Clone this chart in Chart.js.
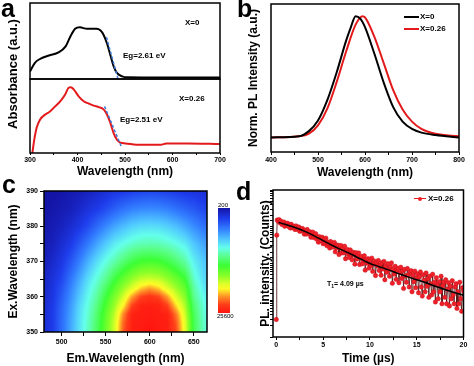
<!DOCTYPE html>
<html>
<head>
<meta charset="utf-8">
<script src="https://cdn.jsdelivr.net/npm/chart.js@4.4.0/dist/chart.umd.min.js"></script>
<style>
  html, body { margin: 0; padding: 0; background: #fff; }
  #fig { position: relative; width: 474px; height: 366px; overflow: hidden;
         font-family: "Liberation Sans", Arial, sans-serif; font-weight: bold; color: #000; }
  #fig canvas { position: absolute; }
  .t { position: absolute; white-space: nowrap; line-height: 1; }
  .ytitle { position: absolute; height: 14px; line-height: 14px; text-align: center;
            transform: rotate(-90deg); white-space: nowrap; }
  .sw { position: absolute; height: 2px; }
</style>
</head>
<body>
<div id="fig">
  <canvas id="absTop" width="230" height="80" style="left:0;top:0"></canvas>
  <canvas id="absBot" width="230" height="101" style="left:0;top:78px"></canvas>
  <canvas id="plSpec" width="236" height="180" style="left:237px;top:0"></canvas>
  <canvas id="plMapChart" width="240" height="190" style="left:0;top:176px"></canvas>
  <canvas id="decay" width="237" height="190" style="left:237px;top:176px"></canvas>

  <div class="ytitle" style="left:-57px;top:67px;width:140px;font-size:13px">Absorbance (a.u.)</div>

  <div class="t" style="left:1px;top:-4px;font-size:25px">a</div>
  <div class="t" style="left:237px;top:-4px;font-size:25px">b</div>
  <div class="t" style="left:2px;top:172px;font-size:25px">c</div>
  <div class="t" style="left:236px;top:179px;font-size:25px">d</div>

  <div class="t" style="left:185px;top:19px;font-size:8px">X=0</div>
  <div class="t" style="left:123px;top:52px;font-size:8px">Eg=2.61 eV</div>
  <div class="t" style="left:179px;top:95px;font-size:8px">X=0.26</div>
  <div class="t" style="left:120px;top:116px;font-size:8px">Eg=2.51 eV</div>

  <div class="sw" style="left:404px;top:16px;width:15px;background:#000"></div>
  <div class="t" style="left:420px;top:13px;font-size:8px">X=0</div>
  <div class="sw" style="left:404px;top:28px;width:15px;background:#e31a1c"></div>
  <div class="t" style="left:420px;top:25px;font-size:8px">X=0.26</div>

  <div class="t" style="left:218px;top:202px;font-size:6px;font-weight:normal">200</div>
  <div class="t" style="left:217px;top:313px;font-size:6px;font-weight:normal">25600</div>

  <div class="sw" style="left:414px;top:198px;width:12px;background:#e31a1c;height:1px"></div>
  <div class="t" style="left:418px;top:197px;width:4px;height:4px;border-radius:2px;background:#f0202a"></div>
  <div class="t" style="left:428px;top:195px;font-size:8px">X=0.26</div>
  <div class="t" style="left:327px;top:280px;font-size:7px">T<sub style="font-size:5px">1</sub>= 4.09 µs</div>
</div>

<script>
// ---- panel a: absorbance ----
const absWl0 = [300, 310, 320, 340, 360, 375, 385, 395, 405, 420, 440, 448, 455, 462, 469, 476, 483, 494, 505, 550, 600, 650, 700];
const absX0 = [0.10, 0.21, 0.26, 0.31, 0.35, 0.43, 0.56, 0.66, 0.68, 0.66, 0.66, 0.64, 0.58, 0.47, 0.32, 0.17, 0.08, 0.035, 0.022, 0.02, 0.02, 0.02, 0.02];
const absWl26 = [305, 309, 314, 321, 332, 342, 353, 364, 374, 381, 386, 392, 402, 413, 423, 434, 445, 455, 462, 469, 476, 483, 490, 501, 533, 575, 587, 632, 700];
const absX26 = [0, 0.18, 0.34, 0.45, 0.52, 0.56, 0.63, 0.70, 0.79, 0.88, 0.89, 0.86, 0.77, 0.70, 0.67, 0.64, 0.62, 0.59, 0.52, 0.41, 0.27, 0.18, 0.14, 0.13, 0.11, 0.11, 0.13, 0.13, 0.12];
const tangentWl0 = [461, 487];
const tangentAbs0 = [0.55, -0.04];
const tangentWl26 = [457, 492];
const tangentAbs26 = [0.63, 0.09];

// ---- panel b: normalised PL ----
const plWl0 = [400, 460, 480, 500, 520, 540, 560, 570, 580, 590, 600, 620, 640, 660, 680, 700, 720, 750, 800];
const plX0 = [0, 0.01, 0.05, 0.14, 0.31, 0.54, 0.80, 0.91, 1.0, 0.98, 0.91, 0.69, 0.45, 0.25, 0.13, 0.07, 0.04, 0.02, 0.0];
const plWl26 = [400, 460, 480, 500, 520, 540, 560, 580, 595, 600, 620, 640, 660, 680, 700, 720, 750, 800];
const plX26 = [0, 0.01, 0.03, 0.10, 0.24, 0.46, 0.71, 0.93, 1.0, 0.99, 0.83, 0.61, 0.39, 0.23, 0.13, 0.07, 0.03, 0.01];

// ---- panel c: PLE map (counts) ----
const emWl = [480, 490, 500, 510, 520, 530, 540, 550, 560, 570, 580, 590, 600, 610, 620, 630, 640, 650, 660, 670];
const exWl = [350, 352.5, 355, 357.5, 360, 362.5, 365, 370, 375, 380, 385, 390];
const plMap = [
  [1900, 2700, 4600, 6700, 8800, 10700, 13000, 15600, 18400, 22900, 25000, 25300, 25600, 25300, 25000, 23300, 19000, 13400, 10900, 9300],
  [1800, 2700, 4600, 6600, 8700, 10600, 12800, 15500, 18200, 22600, 25000, 25200, 25400, 25200, 25000, 23000, 18800, 13400, 10900, 9300],
  [1800, 2700, 4500, 6400, 8600, 10400, 12600, 15200, 17800, 21800, 24900, 25100, 25200, 25100, 24900, 22200, 18300, 13200, 10600, 9100],
  [1700, 2600, 4300, 6200, 8300, 10100, 12100, 14600, 17000, 19800, 23500, 24900, 25000, 24900, 23500, 20300, 17500, 12600, 10400, 8800],
  [1600, 2400, 4000, 5800, 7800, 9700, 11500, 13800, 16100, 18300, 21400, 23400, 24000, 23400, 21400, 18500, 16500, 11900, 9900, 8600],
  [1400, 2300, 3600, 5400, 7300, 9200, 10900, 12900, 15000, 16900, 18600, 20400, 21300, 20400, 18600, 17100, 15400, 11400, 9300, 8100],
  [1300, 2100, 3100, 4900, 6700, 8600, 10200, 11800, 13800, 15500, 16900, 17900, 18200, 17900, 16900, 15700, 14200, 10600, 8800, 7800],
  [900, 1600, 2400, 3700, 5300, 7000, 8600, 10000, 11200, 12500, 13600, 14300, 14500, 14300, 13600, 12600, 11400, 9300, 8100, 7100],
  [700, 1000, 1800, 2500, 3800, 5200, 6600, 7900, 9100, 9900, 10600, 11000, 11100, 11000, 10600, 10000, 9200, 7800, 6800, 6000],
  [400, 700, 1100, 1700, 2400, 3300, 4500, 5600, 6600, 7400, 8100, 8500, 8600, 8500, 8100, 7500, 6700, 5800, 5000, 4500],
  [200, 400, 700, 900, 1500, 2100, 2600, 3300, 4100, 4800, 5300, 5600, 5700, 5600, 5300, 4800, 4300, 3800, 3200, 3000],
  [200, 200, 300, 600, 800, 1100, 1500, 1900, 2300, 2500, 2800, 3000, 3100, 3000, 2800, 2600, 2300, 2200, 2000, 1700]
];
const cbarTicks = [200, 25600];

// ---- panel d: PL decay ----
const decayTime = [0, 0.05,
  0.1, 0.2, 0.3, 0.4, 0.5, 0.6, 0.7, 0.8, 0.9, 1.0, 1.1, 1.2, 1.3, 1.4, 1.5, 1.6, 1.7, 1.8, 1.9, 2.0,
  2.1, 2.2, 2.3, 2.4, 2.5, 2.6, 2.7, 2.8, 2.9, 3.0, 3.1, 3.2, 3.3, 3.4, 3.5, 3.6, 3.7, 3.8, 3.9, 4.0,
  4.1, 4.2, 4.3, 4.4, 4.5, 4.6, 4.7, 4.8, 4.9, 5.0, 5.1, 5.2, 5.3, 5.4, 5.5, 5.6, 5.7, 5.8, 5.9, 6.0,
  6.1, 6.2, 6.3, 6.4, 6.5, 6.6, 6.7, 6.8, 6.9, 7.0, 7.1, 7.2, 7.3, 7.4, 7.5, 7.6, 7.7, 7.8, 7.9, 8.0,
  8.1, 8.2, 8.3, 8.4, 8.5, 8.6, 8.7, 8.8, 8.9, 9.0, 9.1, 9.2, 9.3, 9.4, 9.5, 9.6, 9.7, 9.8, 9.9, 10.0,
  10.1, 10.2, 10.3, 10.4, 10.5, 10.6, 10.7, 10.8, 10.9, 11.0, 11.1, 11.2, 11.3, 11.4, 11.5, 11.6, 11.7, 11.8, 11.9, 12.0,
  12.1, 12.2, 12.3, 12.4, 12.5, 12.6, 12.7, 12.8, 12.9, 13.0, 13.1, 13.2, 13.3, 13.4, 13.5, 13.6, 13.7, 13.8, 13.9, 14.0,
  14.1, 14.2, 14.3, 14.4, 14.5, 14.6, 14.7, 14.8, 14.9, 15.0, 15.1, 15.2, 15.3, 15.4, 15.5, 15.6, 15.7, 15.8, 15.9, 16.0,
  16.1, 16.2, 16.3, 16.4, 16.5, 16.6, 16.7, 16.8, 16.9, 17.0, 17.1, 17.2, 17.3, 17.4, 17.5, 17.6, 17.7, 17.8, 17.9, 18.0,
  18.1, 18.2, 18.3, 18.4, 18.5, 18.6, 18.7, 18.8, 18.9, 19.0, 19.1, 19.2, 19.3, 19.4, 19.5, 19.6, 19.7, 19.8, 19.9, 20.0];
const decayCounts = [3, 590,
  1523, 1406, 1566, 1275, 1420, 1157, 1288, 1348, 1031, 1222, 1127, 1254, 1020, 1136, 924, 1165, 1009, 931, 1036, 843,
  1058, 857, 891, 987, 751, 886, 764, 900, 776, 629, 786, 633, 843, 638, 661, 729, 518, 648, 714, 508,
  557, 651, 461, 539, 381, 538, 459, 418, 520, 345, 459, 369, 490, 306, 382, 348, 263, 396, 281, 350,
  282, 376, 208, 314, 269, 316, 175, 264, 310, 194, 259, 196, 295, 135, 217, 240, 182, 146, 235, 178,
  126, 203, 174, 96, 198, 132, 165, 193, 94, 142, 156, 98, 122, 163, 66, 127, 102, 136, 75, 121,
  86, 140, 61, 98, 116, 47, 105, 85, 121, 64, 91, 48, 105, 71, 114, 36, 86, 58, 99, 67,
  45, 82, 104, 29, 68, 52, 84, 37, 67, 74, 30, 56, 79, 39, 63, 21, 69, 46, 31, 73,
  49, 23, 57, 64, 17, 48, 32, 62, 22, 39, 52, 16, 44, 59, 23, 13, 49, 35, 17, 55,
  24, 39, 12, 45, 28, 14, 51, 17, 31, 9, 41, 26, 11, 32, 17, 45, 8, 25, 31, 12,
  36, 8, 20, 30, 7, 24, 11, 34, 14, 8, 23, 28, 6, 17, 8, 31, 11, 5, 22, 18];
const fitTime = [0.25, 1, 2, 3, 4, 5, 6, 7, 8, 9, 10, 11, 12, 13, 14, 15, 16, 17, 18, 19, 20];
const fitCounts = [1310, 1148, 955, 759, 575, 417, 309, 234, 178, 133, 100, 82, 67, 54, 44, 36, 30, 24, 19.6, 16.3, 13.7];

const RED = '#e31a1c';
const BLUE = '#3d7fd9';

Chart.defaults.font.family = '"Liberation Sans", Arial, sans-serif';
Chart.defaults.font.size = 7;
Chart.defaults.font.weight = 'bold';
Chart.defaults.color = '#000';

const pts = (xs, ys) => xs.map((x, i) => ({ x: x, y: ys[i] }));

// black box round the plot area
const frame = {
  id: 'frame',
  afterDraw(chart) {
    const { ctx, chartArea: a } = chart;
    ctx.save();
    ctx.strokeStyle = '#000';
    ctx.lineWidth = 1.5;
    ctx.strokeRect(a.left, a.top, a.right - a.left, a.bottom - a.top);
    ctx.restore();
  }
};

function baseOpts(padding) {
  return {
    responsive: false,
    animation: false,
    events: [],
    layout: { padding: padding },
    plugins: { legend: { display: false }, tooltip: { enabled: false } }
  };
}

function xAxis(min, max, step, labelEvery, title, height, tickLen, tickPad) {
  return {
    type: 'linear', min: min, max: max,
    ticks: {
      stepSize: step, autoSkip: false, maxRotation: 0, padding: tickPad, includeBounds: false,
      callback: v => (Math.abs(v % labelEvery) < 1e-6 ? v : '')
    },
    grid: { display: true, drawOnChartArea: false, drawTicks: true, tickLength: tickLen, color: '#000', tickColor: '#000' },
    border: { display: false },
    title: { display: true, text: title, font: { size: 12, weight: 'bold' }, padding: 0 },
    afterFit: s => { s.height = height; s.paddingLeft = 0; s.paddingRight = 0; }
  };
}

function plainY(min, max, width, title, titlePad) {
  return {
    min: min, max: max,
    ticks: { display: false },
    grid: { display: false },
    border: { display: false },
    title: { display: !!title, text: title || '', font: { size: 12, weight: 'bold' }, padding: { top: titlePad || 0, bottom: 0 } },
    afterFit: s => { s.width = width; s.paddingTop = 0; s.paddingBottom = 0; }
  };
}

const lineDs = (data, color, width) => ({
  data: data, showLine: true, borderColor: color, borderWidth: width,
  pointRadius: 0, pointHoverRadius: 0, cubicInterpolationMode: 'monotone'
});

// a, upper half (X=0)
new Chart(document.getElementById('absTop'), {
  type: 'scatter',
  data: { datasets: [
    Object.assign(lineDs(pts(tangentWl0, tangentAbs0), BLUE, 1.5), { borderDash: [3, 2], clip: false }),
    lineDs(pts(absWl0, absX0), '#000', 2)
  ] },
  options: Object.assign(baseOpts({ left: 0, top: 3, right: 10, bottom: 1 }), {
    scales: {
      x: { type: 'linear', display: false, min: 300, max: 700 },
      y: plainY(0, 1, 30)
    }
  }),
  plugins: [frame]
});

// a, lower half (X=0.26)
new Chart(document.getElementById('absBot'), {
  type: 'scatter',
  data: { datasets: [
    Object.assign(lineDs(pts(tangentWl26, tangentAbs26), BLUE, 1.5), { borderDash: [3, 2] }),
    lineDs(pts(absWl26, absX26), RED, 2)
  ] },
  options: Object.assign(baseOpts({ left: 0, top: 1, right: 10, bottom: 0 }), {
    scales: {
      x: xAxis(300, 700, 50, 100, 'Wavelength (nm)', 26, 2, 1),
      y: plainY(0, 1, 30)
    }
  }),
  plugins: [frame]
});

// b
new Chart(document.getElementById('plSpec'), {
  type: 'scatter',
  data: { datasets: [
    lineDs(pts(plWl0, plX0), '#000', 2),
    lineDs(pts(plWl26, plX26), RED, 2)
  ] },
  options: Object.assign(baseOpts({ left: 0, top: 4, right: 14, bottom: 0 }), {
    scales: {
      x: xAxis(400, 800, 50, 100, 'Wavelength (nm)', 28, 3, 1),
      y: plainY(-0.12, 1.10, 34, 'Norm. PL Intensity (a.u.)', 9)
    }
  }),
  plugins: [frame]
});

// c: colour map drawn pixel by pixel through the chart scales
const cmapStops = [
  [0.00, [20, 20, 165]], [0.10, [30, 60, 235]], [0.20, [50, 125, 255]], [0.30, [80, 200, 255]],
  [0.38, [100, 255, 235]], [0.46, [90, 255, 140]], [0.55, [60, 255, 50]], [0.65, [140, 255, 40]],
  [0.72, [220, 255, 40]], [0.77, [255, 250, 40]], [0.84, [255, 150, 40]], [0.92, [255, 60, 25]],
  [1.00, [255, 20, 15]]
];

function cmap(t) {
  t = Math.min(1, Math.max(0, t));
  for (let i = 1; i < cmapStops.length; i++) {
    const [p1, c1] = cmapStops[i];
    if (t <= p1) {
      const [p0, c0] = cmapStops[i - 1];
      const f = (t - p0) / (p1 - p0);
      return c0.map((v, k) => Math.round(v + (c1[k] - v) * f));
    }
  }
  return cmapStops[cmapStops.length - 1][1];
}

function findCell(arr, v) {
  const n = arr.length - 1;
  if (v <= arr[0]) return [0, 0, 0];
  if (v >= arr[n]) return [n, n, 0];
  let i = 0;
  while (arr[i + 1] < v) i++;
  return [i, i + 1, (v - arr[i]) / (arr[i + 1] - arr[i])];
}

function mapValue(xv, yv) {
  const [c0, c1, fx] = findCell(emWl, xv);
  const [r0, r1, fy] = findCell(exWl, yv);
  const lo = plMap[r0][c0] * (1 - fx) + plMap[r0][c1] * fx;
  const hi = plMap[r1][c0] * (1 - fx) + plMap[r1][c1] * fx;
  return lo * (1 - fy) + hi * fy;
}

const heatmap = {
  id: 'heatmap',
  beforeDatasetsDraw(chart) {
    const { ctx, chartArea: a, scales: { x, y } } = chart;
    const left = Math.round(a.left), top = Math.round(a.top);
    const w = Math.round(a.right) - left, h = Math.round(a.bottom) - top;
    const img = ctx.createImageData(w, h);
    const span = cbarTicks[1] - cbarTicks[0];
    for (let j = 0; j < h; j++) {
      const yv = y.getValueForPixel(top + j + 0.5);
      for (let i = 0; i < w; i++) {
        const xv = x.getValueForPixel(left + i + 0.5);
        const c = cmap((mapValue(xv, yv) - cbarTicks[0]) / span);
        const k = (j * w + i) * 4;
        img.data[k] = c[0]; img.data[k + 1] = c[1]; img.data[k + 2] = c[2]; img.data[k + 3] = 255;
      }
    }
    ctx.putImageData(img, left, top);
  },
  afterDraw(chart) {
    // colour bar, low at the top
    const ctx = chart.ctx;
    const g = ctx.createLinearGradient(0, 32, 0, 137);
    cmapStops.forEach(([p, c]) => g.addColorStop(p, 'rgb(' + c.join(',') + ')'));
    ctx.fillStyle = g;
    ctx.fillRect(218, 32, 12, 105);
  }
};

new Chart(document.getElementById('plMapChart'), {
  type: 'scatter',
  data: { datasets: [] },
  options: Object.assign(baseOpts({ left: 0, top: 15, right: 33, bottom: 0 }), {
    scales: {
      x: xAxis(480, 665, 25, 50, 'Em.Wavelength (nm)', 34, 4, 2),
      y: {
        min: 350, max: 390,
        ticks: { stepSize: 5, autoSkip: false, padding: 2, callback: v => (v % 10 === 0 ? v : '') },
        grid: { display: true, drawOnChartArea: false, tickLength: 4, color: '#000', tickColor: '#000' },
        border: { display: false },
        title: { display: true, text: 'Ex.Wavelength (nm)', font: { size: 12, weight: 'bold' }, padding: { top: 6, bottom: 0 } },
        afterFit: s => { s.width = 44; s.paddingTop = 0; s.paddingBottom = 0; }
      }
    }
  }),
  plugins: [heatmap, frame]
});

// d
new Chart(document.getElementById('decay'), {
  type: 'scatter',
  data: { datasets: [
    lineDs(pts(fitTime, fitCounts), '#000', 1.5),
    {
      data: pts(decayTime, decayCounts), showLine: true, borderColor: '#4a0808', borderWidth: 0.8,
      pointRadius: 2.2, pointHoverRadius: 2.2, pointBackgroundColor: '#f0202a', pointBorderColor: '#c81018',
      pointBorderWidth: 0.5, tension: 0
    }
  ] },
  options: Object.assign(baseOpts({ left: 0, top: 14, right: 10.5, bottom: 0 }), {
    scales: {
      x: xAxis(-0.35, 20, 2.5, 5, 'Time (µs)', 29, 3, 1),
      y: {
        type: 'logarithmic', min: 1, max: 10000,
        ticks: { display: false },
        grid: { display: true, drawOnChartArea: false, tickLength: 3, color: '#000', tickColor: '#000' },
        border: { display: false },
        title: { display: true, text: 'PL. intensity. (Counts)', font: { size: 12, weight: 'bold' }, padding: { top: 21, bottom: 0 } },
        afterFit: s => { s.width = 36; s.paddingTop = 0; s.paddingBottom = 0; }
      }
    }
  }),
  plugins: [frame]
});
</script>
</body>
</html>
